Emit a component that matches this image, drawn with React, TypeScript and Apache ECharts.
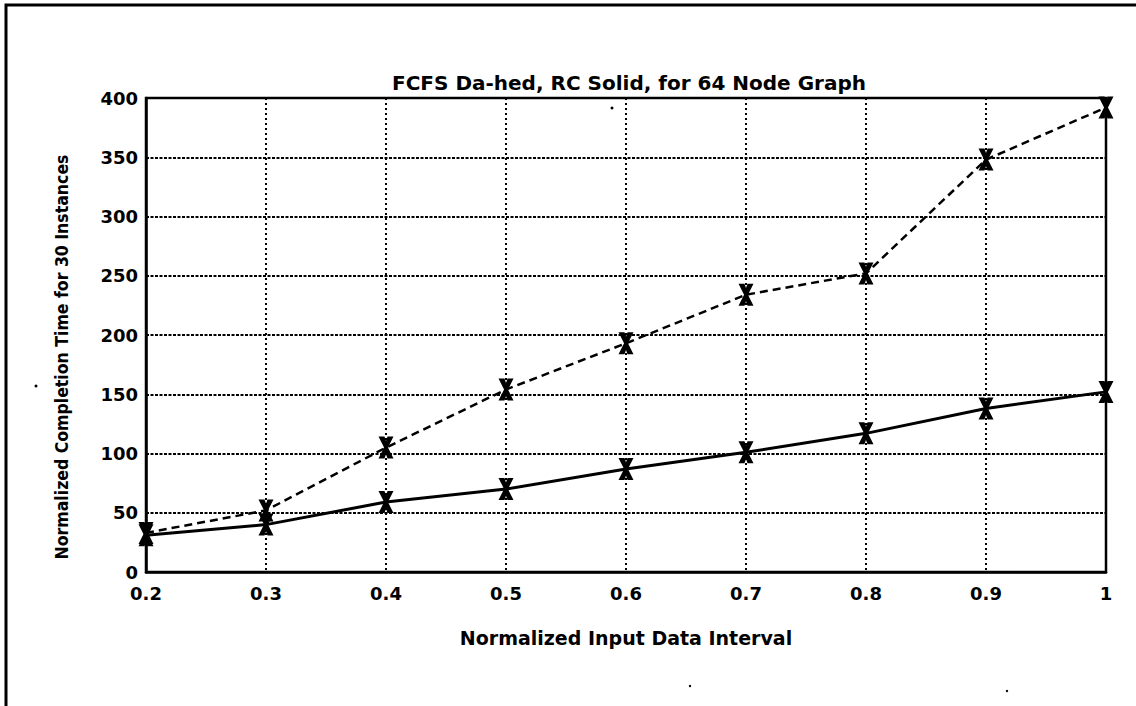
import React, { useEffect, useRef } from "react";
import * as echarts from "echarts";

const xValues = [0.2, 0.3, 0.4, 0.5, 0.6, 0.7, 0.8, 0.9, 1.0];
const fcfsValues = [33, 52, 105, 154, 193, 234, 252, 348, 392];
const rcValues = [31, 40, 59, 70, 87, 101, 117, 138, 152];
const yTicks = [0, 50, 100, 150, 200, 250, 300, 350, 400];

const titleText = "FCFS Da-hed, RC Solid, for 64 Node Graph";
const xName = "Normalized Input Data Interval";
const yName = "Normalized Completion Time for 30 Instances";

const markerPath =
  "path://M0,0 L4,0 L5,4 L6,0 L10,0 L6.3,10 L10,20 L6,20 L5,16 L4,20 L0,20 L3.7,10 Z";

export default function App() {
  const ref = useRef<HTMLDivElement>(null);
  useEffect(() => {
    if (!ref.current) return;
    const chart = echarts.init(ref.current, null, { renderer: "svg" });
    const font = "DejaVu Sans";
    chart.setOption({
      animation: false,
      backgroundColor: "#ffffff",
      title: {
        text: titleText,
        left: 624,
        top: 68,
        textAlign: "center",
        textStyle: { fontFamily: font, fontSize: 20, fontWeight: "bold", color: "#000" },
      },
      grid: {
        left: 146,
        top: 98,
        right: 30,
        bottom: 134,
        show: true,
        borderColor: "#000",
        borderWidth: 2.5,
        backgroundColor: "transparent",
      },
      xAxis: {
        type: "value",
        min: 0.2,
        max: 1,
        interval: 0.1,
        name: xName,
        nameLocation: "middle",
        nameGap: 56,
        nameTextStyle: { fontFamily: font, fontSize: 19, fontWeight: "bold", color: "#000" },
        axisLine: { show: true, lineStyle: { color: "#000", width: 2.5 } },
        axisTick: { show: false },
        axisLabel: {
          color: "#000",
          fontFamily: font,
          fontSize: 18,
          fontWeight: "bold",
          margin: 12,
          formatter: (v: number) => String(Number(v.toFixed(1))),
        },
        splitLine: { show: true, lineStyle: { color: "#000", width: 2, type: [2, 3] } },
      },
      yAxis: {
        type: "value",
        min: 0,
        max: 400,
        interval: 50,
        axisLine: { show: true, lineStyle: { color: "#000", width: 2.5 } },
        axisTick: { show: false },
        axisLabel: {
          color: "#000",
          fontFamily: font,
          fontSize: 18,
          fontWeight: "bold",
          margin: 8,
          formatter: (v: number) => (yTicks.includes(v) ? String(v) : ""),
        },
        splitLine: { show: true, lineStyle: { color: "#000", width: 2, type: [3, 1.5] } },
      },
      graphic: [
        {
          type: "rect",
          shape: { x: 6, y: 5, width: 1300, height: 900 },
          style: { fill: "none", stroke: "#000", lineWidth: 3 },
          silent: true,
        },
        {
          type: "text",
          x: 62,
          y: 357,
          rotation: Math.PI / 2,
          style: {
            text: yName,
            fontFamily: "Liberation Sans Narrow, DejaVu Sans Condensed, Arial Narrow, sans-serif",
            fontSize: 17.5,
            fontWeight: "bold",
            fill: "#000",
            align: "center",
            verticalAlign: "middle",
          },
        },
        { type: "circle", shape: { cx: 612, cy: 108, r: 1.5 }, style: { fill: "#000" } },
        { type: "circle", shape: { cx: 36, cy: 386, r: 1.5 }, style: { fill: "#000" } },
        { type: "circle", shape: { cx: 690, cy: 686, r: 1.2 }, style: { fill: "#000" } },
        { type: "circle", shape: { cx: 1007, cy: 691, r: 1.2 }, style: { fill: "#000" } },
      ],
      series: [
        {
          name: "FCFS",
          type: "line",
          data: xValues.map((x, i) => [x, fcfsValues[i]]),
          symbol: markerPath,
          symbolSize: [15, 22],
          itemStyle: { color: "#000" },
          lineStyle: { color: "#000", width: 2.5, type: [8, 5] },
          z: 3,
        },
        {
          name: "RC",
          type: "line",
          data: xValues.map((x, i) => [x, rcValues[i]]),
          symbol: markerPath,
          symbolSize: [15, 22],
          itemStyle: { color: "#000" },
          lineStyle: { color: "#000", width: 3 },
          z: 3,
        },
      ],
    });
    return () => chart.dispose();
  }, []);
  return (
    <div
      ref={ref}
      style={{ position: "fixed", left: 0, top: 0, width: 1136, height: 706, background: "#fff" }}
    />
  );
}
